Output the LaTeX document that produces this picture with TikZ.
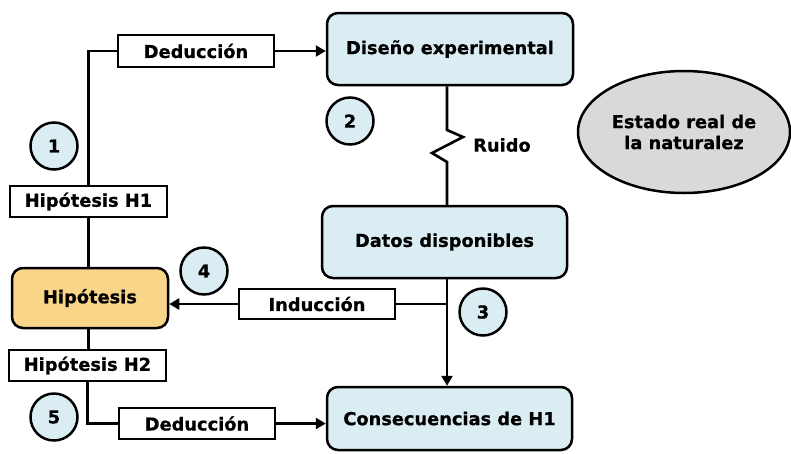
\documentclass[tikz,border=0pt]{standalone}
\usepackage{fontspec}
\setmainfont{DejaVu Sans}[BoldFeatures={FakeBold=0.6}]
\usetikzlibrary{arrows.meta,shapes.geometric}
\definecolor{lblue}{HTML}{DAEDF3}
\definecolor{lorange}{HTML}{F9D58A}
\definecolor{lgray}{HTML}{D9D9D9}
\tikzset{
  base/.style={draw=black,line width=2.5pt,font=\fontsize{17.8}{21}\selectfont\bfseries,inner sep=0pt,align=center},
  rbox/.style={base,rounded corners=11pt,fill=lblue},
  hbox/.style={base,rounded corners=11pt,fill=lorange},
  lbox/.style={base,line width=2.2pt,fill=white},
  num/.style={base,circle,fill=lblue,minimum size=47pt},
  conn/.style={line width=2.6pt},
  tri/.style={line width=2.6pt,-{Triangle[length=10pt,width=11pt]}}
}
\begin{document}
\begin{tikzpicture}[x=1pt,y=-1pt]
\useasboundingbox (0,0) rectangle (791,453);
% main boxes
\node[rbox,minimum width=246pt,minimum height=72pt] (dis) at (450,49) {Diseño experimental};
\node[rbox,minimum width=245pt,minimum height=72pt] (dat) at (444.5,242) {Datos disponibles};
\node[rbox,minimum width=245pt,minimum height=63pt] (con) at (449.5,418.5) {Consecuencias de H1};
\node[hbox,minimum width=156pt,minimum height=60pt] (hip) at (90,298) {Hipótesis};
\node[base,ellipse,fill=lgray,minimum width=212pt,minimum height=122pt] (est) at (684,132) {Estado real de\\la naturalez};
% label boxes
\node[lbox,minimum width=157pt,minimum height=31pt] (h1) at (88.5,201.5) {Hipótesis H1};
\node[lbox,minimum width=157pt,minimum height=31pt] (h2) at (87.5,365.5) {Hipótesis H2};
\node[lbox,minimum width=156pt,minimum height=32pt] (d1) at (196,51) {Deducción};
\node[lbox,minimum width=156pt,minimum height=31pt] (d2) at (197,423.5) {Deducción};
\node[lbox,minimum width=156pt,minimum height=30pt] (ind) at (317,304) {Inducción};
% numbered circles
\node[num] (n1) at (54,146) {1};
\node[num] (n2) at (350,121) {2};
\node[num] (n3) at (483,312) {3};
\node[num] (n4) at (204,271) {4};
\node[num] (n5) at (54,417) {5};
% Ruido label
\node[base,draw=none,anchor=west] (ruido) at (472,145) {Ruido};
% coordinates
\coordinate (v) at (447,0);
\coordinate (z1) at (447,130);
\coordinate (z2) at (463,137);
\coordinate (z3) at (432,153);
\coordinate (z4) at (447,162);
% connectors
\draw[conn] (h1.north) |- (d1.west);
\draw[tri] (d1.east) -- (d1.east -| dis.west);
\draw[conn] (h1.south) -- (h1.south |- hip.north);
\draw[conn] (h1.south |- hip.south) -- (h1.south |- h2.north);
\draw[conn] (h2.south) |- (d2.west);
\draw[tri] (d2.east) -- (d2.east -| con.west);
\draw[conn] (dis.south -| v) -- (z1) -- (z2) -- (z3) -- (z4) -- (dat.north -| v);
\draw[tri] (dat.south -| v) -- (con.north -| v);
\draw[conn] (ind.east) -- (ind.east -| v);
\draw[tri] (ind.west) -- (ind.west -| hip.east);
\end{tikzpicture}
\end{document}
